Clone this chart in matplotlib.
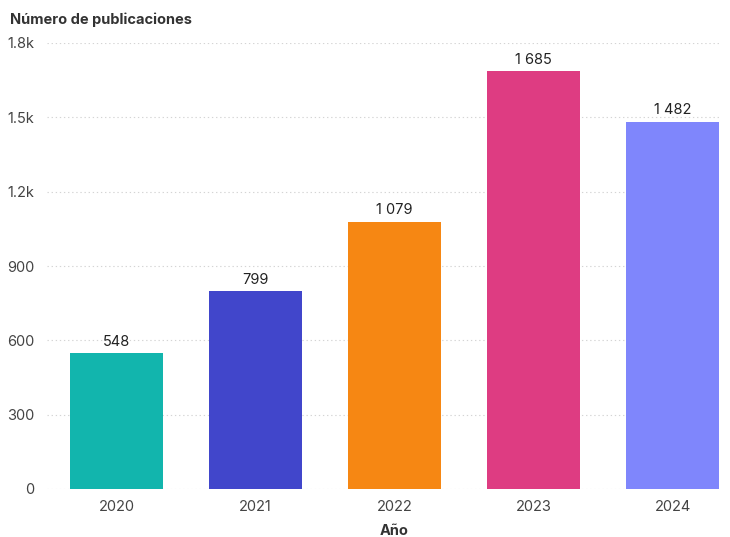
import matplotlib
matplotlib.use("Agg")
import matplotlib.pyplot as plt
from matplotlib.ticker import FixedLocator

years = ["2020", "2021", "2022", "2023", "2024"]
values = [548, 799, 1079, 1685, 1482]
colors = ["#12B5AD", "#4146CB", "#F68713", "#DE3C82", "#7F86FC"]
yticks = [0, 300, 600, 900, 1200, 1500, 1800]
ytick_labels = ["0", "300", "600", "900", "1.2k", "1.5k", "1.8k"]

plt.rcParams['font.family'] = ['Inter', 'DejaVu Sans']

fig = plt.figure(figsize=(7.3, 5.37), dpi=100)
ax = fig.add_axes([47/730, 48/537, (720-47)/730, (494-48)/537])

x = list(range(len(years)))
ax.bar(x, values, width=0.67, color=colors, zorder=3)
for xi, v in zip(x, values):
    lbl = f"{v:,}".replace(",", " ")
    ax.text(xi, v + 18, lbl, ha="center", va="bottom", fontsize=10.5, color="#222222", zorder=4)

ax.set_ylim(0, 1800)
ax.set_xlim(-0.5, 4.34)
ax.yaxis.set_major_locator(FixedLocator(yticks))
ax.set_yticklabels(ytick_labels)
ax.set_xticks(x)
ax.set_xticklabels(years)
ax.tick_params(axis="both", length=0, labelsize=10.5, labelcolor="#444444")
ax.tick_params(axis="y", pad=9)
ax.tick_params(axis="x", pad=8)
ax.grid(axis="y", linestyle=(0, (1.2, 2.5)), color="#d4d4d4", linewidth=0.8, zorder=0)
for s in ax.spines.values():
    s.set_visible(False)

fig.text(394/730, 1 - 531/537, "Año", fontsize=10.5, fontweight="bold",
         color="#333333", ha="center", va="center")
fig.text(10/730, 1 - 20/537, "Número de publicaciones", fontsize=10.5, fontweight="bold",
         color="#333333", ha="left", va="center")

fig.savefig("out.png", dpi=100)
